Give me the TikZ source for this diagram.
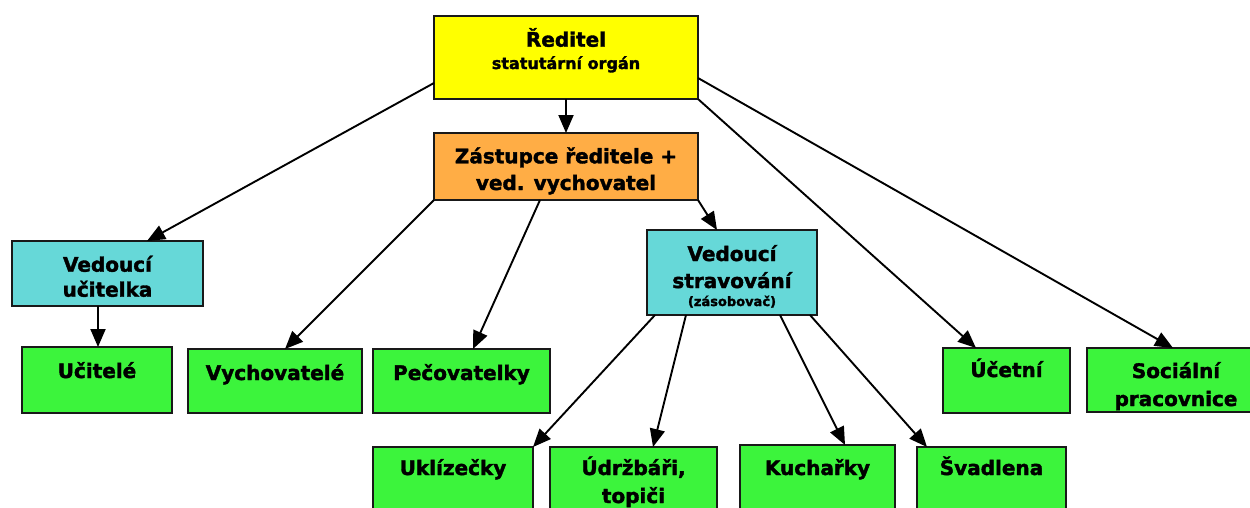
\documentclass[tikz,border=0pt]{standalone}
\usepackage{fontspec}
\setmainfont{DejaVu Sans}[BoldFeatures={FakeBold=1.8}]
\usetikzlibrary{arrows.meta,calc}
\definecolor{cyel}{HTML}{FFFF00}
\definecolor{corg}{HTML}{FFAD45}
\definecolor{ccya}{HTML}{66D8D8}
\definecolor{cgrn}{HTML}{3CF43C}
\newcommand\orgbox[6]{%
  \node[box, fill=#6, minimum width={(#4-#2)*1pt}, minimum height={(#5-#3)*1pt}] (#1) at (#2,#3) {};}
\newcommand\orgframe[1]{\draw[frame] (#1.north west) rectangle (#1.south east);}
\begin{document}
\begin{tikzpicture}[x=1pt,y=-1pt,
  box/.style={draw=none, inner sep=0pt, outer sep=0pt, anchor=north west},
  lbl/.style={inner sep=0pt, anchor=base, font=\fontsize{20}{24}\selectfont\bfseries},
  sublbl/.style={inner sep=0pt, anchor=base, font=\fontsize{16}{19}\selectfont\bfseries},
  tinylbl/.style={inner sep=0pt, anchor=base, font=\fontsize{13}{15}\selectfont\bfseries},
  frame/.style={draw=black!90, line width=2.2pt},
  arr/.style={line width=1.9pt, -{Triangle[length=18pt,width=15pt]}}
]
\clip (0,0) rectangle (1250,507);
\fill[white] (0,0) rectangle (1250,507);

% boxes
\orgbox{red}{434}{16}{698}{99}{cyel}
\orgbox{zast}{434}{133}{698}{200}{corg}
\orgbox{vu}{12}{241}{203}{306}{ccya}
\orgbox{ucit}{22}{347}{172}{413}{cgrn}
\orgbox{vych}{188}{349}{362}{413}{cgrn}
\orgbox{pec}{373}{349}{550}{413}{cgrn}
\orgbox{vs}{647}{230}{817}{315}{ccya}
\orgbox{ukl}{373}{447}{533}{530}{cgrn}
\orgbox{udr}{550}{447}{717}{530}{cgrn}
\orgbox{kuch}{740}{445}{895}{530}{cgrn}
\orgbox{svad}{917}{447}{1066}{530}{cgrn}
\orgbox{uc}{943}{348}{1070}{413}{cgrn}
\orgbox{soc}{1087}{348}{1265}{412}{cgrn}

% texts (clipped to their boxes)
\begin{scope}\clip (red.north west) rectangle (red.south east);
  \node[lbl] (red-t1) at (566,46.7) {Ředitel};
  \node[sublbl] (red-t2) at (566,69) {statutární orgán};
\end{scope}
\begin{scope}\clip (zast.north west) rectangle (zast.south east);
  \node[lbl] (zast-t1) at (566,163.3) {Zástupce ředitele +};
  \node[lbl] (zast-t2) at (566,190) {ved. vychovatel};
\end{scope}
\begin{scope}\clip (vu.north west) rectangle (vu.south east);
  \node[lbl] (vu-t1) at (107.5,271.7) {Vedoucí};
  \node[lbl] (vu-t2) at (107.5,296.7) {učitelka};
\end{scope}
\begin{scope}\clip (ucit.north west) rectangle (ucit.south east);
  \node[lbl] (ucit-t) at (97,378) {Učitelé};
\end{scope}
\begin{scope}\clip (vych.north west) rectangle (vych.south east);
  \node[lbl] (vych-t) at (275,380) {Vychovatelé};
\end{scope}
\begin{scope}\clip (pec.north west) rectangle (pec.south east);
  \node[lbl] (pec-t) at (461.5,380) {Pečovatelky};
\end{scope}
\begin{scope}\clip (vs.north west) rectangle (vs.south east);
  \node[lbl] (vs-t1) at (732,261) {Vedoucí};
  \node[lbl] (vs-t2) at (732,288) {stravování};
  \node[tinylbl] (vs-t3) at (732,306) {(zásobovač)};
\end{scope}
\begin{scope}\clip (ukl.north west) rectangle (ukl.south east);
  \node[lbl] (ukl-t) at (453,475) {Uklízečky};
\end{scope}
\begin{scope}\clip (udr.north west) rectangle (udr.south east);
  \node[lbl] (udr-t1) at (633.5,475) {Údržbáři,};
  \node[lbl] (udr-t2) at (633.5,503) {topiči};
\end{scope}
\begin{scope}\clip (kuch.north west) rectangle (kuch.south east);
  \node[lbl] (kuch-t) at (817.5,475) {Kuchařky};
\end{scope}
\begin{scope}\clip (svad.north west) rectangle (svad.south east);
  \node[lbl] (svad-t) at (991.5,475) {Švadlena};
\end{scope}
\begin{scope}\clip (uc.north west) rectangle (uc.south east);
  \node[lbl] (uc-t) at (1006.5,377) {Účetní};
\end{scope}
\begin{scope}\clip (soc.north west) rectangle (soc.south east);
  \node[lbl] (soc-t1) at (1176,378) {Sociální};
  \node[lbl] (soc-t2) at (1176,406) {pracovnice};
\end{scope}

% frames
\foreach \n in {red,zast,vu,ucit,vych,pec,vs,ukl,udr,kuch,svad,uc,soc}{\orgframe{\n}}

% connectors
\draw[arr] ([yshift=16pt]red.south west) -- ([xshift=135pt]vu.north west);
\draw[arr] (red.south) -- (zast.north);
\draw[arr] (red.south east) -- ([xshift=33pt]uc.north west);
\draw[arr] ([yshift=21pt]red.south east) -- ([xshift=86pt]soc.north west);
\draw[arr] (zast.south west) -- ([xshift=97pt]vych.north west);
\draw[arr] ([xshift=106pt]zast.south west) -- ([xshift=100pt]pec.north west);
\draw[arr] (zast.south east) -- ([xshift=70pt]vs.north west);
\draw[arr] ([xshift=86pt]vu.south west) -- ([xshift=76pt]ucit.north west);
\draw[arr] ([xshift=8pt]vs.south west) -- (ukl.north east);
\draw[arr] ([xshift=39pt]vs.south west) -- ([xshift=103pt]udr.north west);
\draw[arr] ([xshift=133pt]vs.south west) -- ([xshift=105pt]kuch.north west);
\draw[arr] ([xshift=163pt]vs.south west) -- ([xshift=10pt]svad.north west);
\end{tikzpicture}
\end{document}
